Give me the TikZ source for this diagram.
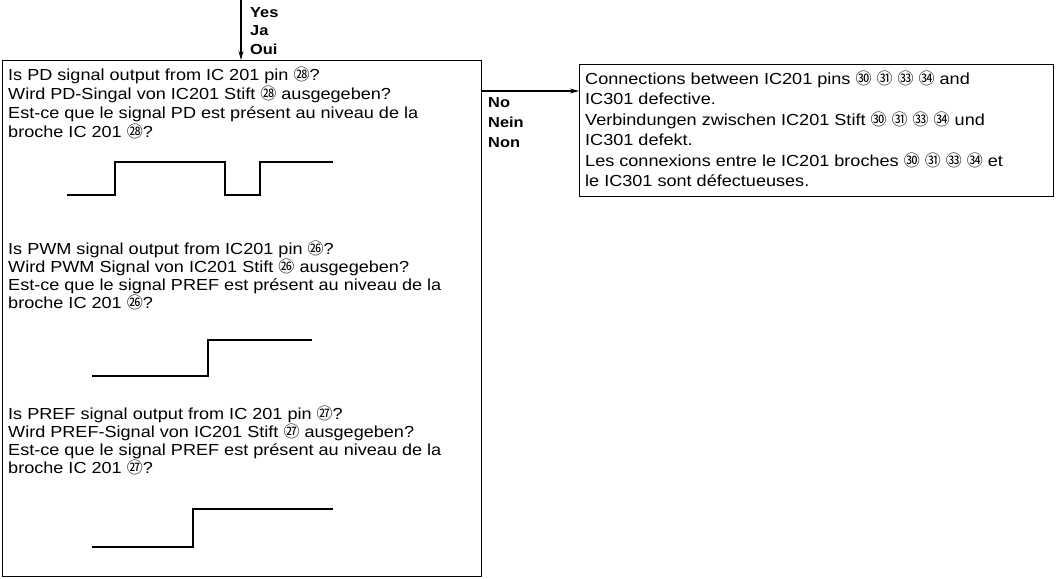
\documentclass[tikz,border=0pt]{standalone}
\usepackage{fontspec}
\setmainfont[FakeStretch=1.13]{Liberation Sans}
\newfontfamily\cjk{Noto Sans CJK SC}
\usetikzlibrary{arrows.meta}
\newcommand{\cn}[1]{{\cjk #1}}
\begin{document}
\begin{tikzpicture}[x=1pt,y=-1pt,
  box/.style={draw, line width=1.1pt, inner sep=0, anchor=north west},
  txt/.style={anchor=base west, inner sep=0, font=\fontsize{16}{18}\selectfont},
  lbl/.style={anchor=base west, inner sep=0, font=\fontsize{14.5}{17}\selectfont\bfseries},
  wave/.style={line width=2.4pt, line join=miter},
  arr/.style={line width=1.1pt, -{Stealth[length=9pt,width=5pt]}}]
\useasboundingbox (0,0) rectangle (1056,578);

% boxes
\node[box, minimum width=479pt, minimum height=516pt] (qbox) at (2,60) {};
\node[box, minimum width=474pt, minimum height=132pt] (rbox) at (579,64) {};

% top arrow with Yes label
\coordinate (top) at (241,0);
\draw[arr] (top) -- (top |- qbox.north);
\node[lbl] (yes) at (250,18) {Yes};
\node[lbl] (ja)  at (250,36) {Ja};
\node[lbl] (oui) at (250,55) {Oui};

% No arrow
\coordinate (nostart) at ([yshift=-31pt]qbox.north east);
\draw[arr] (nostart) -- (nostart -| rbox.west);
\node[lbl] (no)   at (488,107) {No};
\node[lbl] (nein) at (488,127) {Nein};
\node[lbl] (non)  at (488,147) {Non};

% question 1
\node[txt] (q1a) at (8,80)  {Is PD signal output from IC 201 pin \cn{㉘}?};
\node[txt] (q1b) at (8,99)  {Wird PD-Singal von IC201 Stift \cn{㉘} ausgegeben?};
\node[txt] (q1c) at (8,118) {Est-ce que le signal PD est présent au niveau de la};
\node[txt] (q1d) at (8,137) {broche IC 201 \cn{㉘}?};
\draw[wave] (67,195) -- (115,195) -- (115,162) -- (225,162) -- (225,195) -- (260,195) -- (260,162) -- (333,162);

% question 2
\node[txt] (q2a) at (8,254) {Is PWM signal output from IC201 pin \cn{㉖}?};
\node[txt] (q2b) at (8,272) {Wird PWM Signal von IC201 Stift \cn{㉖} ausgegeben?};
\node[txt] (q2c) at (8,290) {Est-ce que le signal PREF est présent au niveau de la};
\node[txt] (q2d) at (8,308) {broche IC 201 \cn{㉖}?};
\draw[wave] (92,376) -- (208,376) -- (208,340) -- (312,340);

% question 3
\node[txt] (q3a) at (8,419) {Is PREF signal output from IC 201 pin \cn{㉗}?};
\node[txt] (q3b) at (8,437) {Wird PREF-Signal von IC201 Stift \cn{㉗} ausgegeben?};
\node[txt] (q3c) at (8,455) {Est-ce que le signal PREF est présent au niveau de la};
\node[txt] (q3d) at (8,473) {broche IC 201 \cn{㉗}?};
\draw[wave] (92,547) -- (193,547) -- (193,509) -- (333,509);

% result box text
\node[txt] (r1) at (585,84)    {Connections between IC201 pins \cn{㉚} \cn{㉛} \cn{㉝} \cn{㉞} and};
\node[txt] (r2) at (585,104.5) {IC301 defective.};
\node[txt] (r3) at (585,125)   {Verbindungen zwischen IC201 Stift \cn{㉚} \cn{㉛} \cn{㉝} \cn{㉞} und};
\node[txt] (r4) at (585,145.5) {IC301 defekt.};
\node[txt] (r5) at (585,166)   {Les connexions entre le IC201 broches \cn{㉚} \cn{㉛} \cn{㉝} \cn{㉞} et};
\node[txt] (r6) at (585,186.5) {le IC301 sont défectueuses.};
\end{tikzpicture}
\end{document}
